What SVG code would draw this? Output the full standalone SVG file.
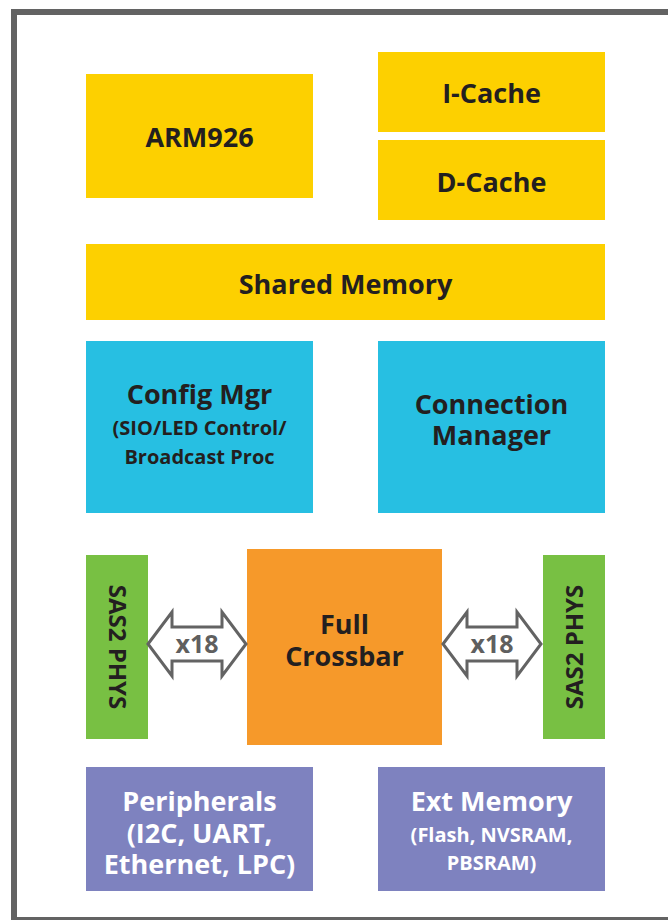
<svg xmlns="http://www.w3.org/2000/svg" width="668" height="920" viewBox="0 0 668 920">
<style>
.t{font-family:"Open Sans","Liberation Sans",sans-serif;font-weight:700;text-anchor:middle;fill:#231f20}
.w{fill:#ffffff}
.big{font-size:27px}
.sm{font-size:20px}
.yel{fill:#fdd000}
.cyan{fill:#27bfe2}
.grn{fill:#78c043}
.org{fill:#f6992a}
.pur{fill:#7e82bf}
.arr{fill:#ffffff;stroke:#636363;stroke-width:3;stroke-linejoin:miter}
.x{font-family:"Open Sans","Liberation Sans",sans-serif;font-weight:700;font-size:25px;text-anchor:middle;fill:#5f5f5f}
</style>
<rect x="0" y="0" width="668" height="920" fill="#ffffff"/>
<rect x="14" y="12" width="700" height="908" fill="none" stroke="#636363" stroke-width="6"/>
<g id="arm926"><rect class="yel" x="86" y="74" width="227" height="124"/><text class="t big" x="199.5" y="147">ARM926</text></g>
<g id="icache"><rect class="yel" x="378" y="52" width="227" height="80"/><text class="t big" x="491.5" y="103">I-Cache</text></g>
<g id="dcache"><rect class="yel" x="378" y="140" width="227" height="80"/><text class="t big" x="491.5" y="192">D-Cache</text></g>
<g id="shared-memory"><rect class="yel" x="86" y="244" width="519" height="76"/><text class="t big" x="345.5" y="294">Shared Memory</text></g>
<g id="config-mgr"><rect class="cyan" x="86" y="341" width="227" height="172"/>
<text class="t big" x="199.5" y="404">Config Mgr</text>
<text class="t sm" x="199.5" y="435">(SIO/LED Control/</text>
<text class="t sm" x="199.5" y="464">Broadcast Proc</text></g>
<g id="connection-manager"><rect class="cyan" x="378" y="341" width="227" height="172"/>
<text class="t big" x="491.5" y="414">Connection</text>
<text class="t big" x="491.5" y="445">Manager</text></g>
<g id="sas2-left"><rect class="grn" x="86" y="555" width="62" height="184"/><text class="t" font-size="24" transform="translate(117,647) rotate(90)" y="8.5">SAS2 PHYS</text></g>
<g id="full-crossbar"><rect class="org" x="247" y="549" width="195" height="196"/>
<text class="t big" x="344.5" y="634">Full</text>
<text class="t big" x="344.5" y="666">Crossbar</text></g>
<g id="sas2-right"><rect class="grn" x="543" y="555" width="62" height="184"/><text class="t" font-size="24" transform="translate(574,647) rotate(-90)" y="8.5">SAS2 PHYS</text></g>
<g id="peripherals"><rect class="pur" x="86" y="767" width="227" height="124"/>
<text class="t w big" x="199.5" y="811">Peripherals</text>
<text class="t w big" x="199.5" y="843">(I2C, UART,</text>
<text class="t w big" x="199.5" y="874">Ethernet, LPC)</text></g>
<g id="ext-memory"><rect class="pur" x="378" y="767" width="227" height="124"/>
<text class="t w big" x="491.5" y="811">Ext Memory</text>
<text class="t w sm" x="491.5" y="842">(Flash, NVSRAM,</text>
<text class="t w sm" x="491.5" y="870">PBSRAM)</text></g>
<g id="connectors">
<path class="arr" d="M148,644 L172,612 L172,627 L222,627 L222,612 L246,644 L222,676 L222,661 L172,661 L172,676 Z"/>
<text class="x" x="197" y="653">x18</text>
<path class="arr" d="M443,644 L467,612 L467,627 L517,627 L517,612 L541,644 L517,676 L517,661 L467,661 L467,676 Z"/>
<text class="x" x="492" y="653">x18</text>
</g>
</svg>
